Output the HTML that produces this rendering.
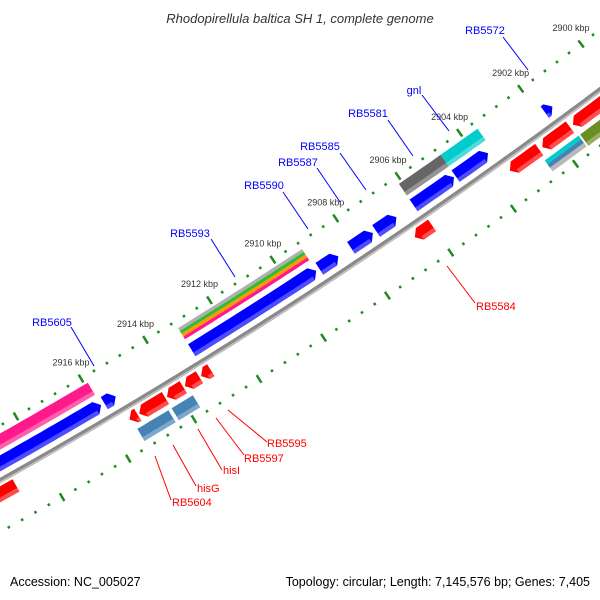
<!DOCTYPE html>
<html><head><meta charset="utf-8"><style>
html,body{margin:0;padding:0;background:#fff;}
svg{display:block;font-family:"Liberation Sans","DejaVu Sans",sans-serif;}
</style></head><body>
<svg id="map" width="600" height="600" viewBox="0 0 600 600" xmlns="http://www.w3.org/2000/svg">
<rect width="600" height="600" fill="#fff"/>
<text x="300" y="23" text-anchor="middle" font-size="13" font-style="italic" fill="#333">Rhodopirellula baltica SH 1, complete genome</text>
<g id="ticks"></g>
<g id="tracks"></g>
<g id="labels" font-size="11">
<g><line x1="503" y1="37" x2="528" y2="70" stroke="#0000ff"/><text x="485" y="34" text-anchor="middle" fill="#0000ff">RB5572</text></g>
<g><line x1="422" y1="95" x2="449" y2="131" stroke="#0000ff"/><text x="414" y="94" text-anchor="middle" fill="#0000ff">gnl</text></g>
<g><line x1="388" y1="120" x2="413" y2="156" stroke="#0000ff"/><text x="368" y="117" text-anchor="middle" fill="#0000ff">RB5581</text></g>
<g><line x1="340" y1="153" x2="366" y2="190" stroke="#0000ff"/><text x="320" y="150" text-anchor="middle" fill="#0000ff">RB5585</text></g>
<g><line x1="317" y1="168" x2="340" y2="202" stroke="#0000ff"/><text x="298" y="166" text-anchor="middle" fill="#0000ff">RB5587</text></g>
<g><line x1="283" y1="192" x2="308" y2="229" stroke="#0000ff"/><text x="264" y="189" text-anchor="middle" fill="#0000ff">RB5590</text></g>
<g><line x1="211" y1="239" x2="235" y2="277" stroke="#0000ff"/><text x="190" y="237" text-anchor="middle" fill="#0000ff">RB5593</text></g>
<g><line x1="71" y1="327" x2="94" y2="366" stroke="#0000ff"/><text x="52" y="326" text-anchor="middle" fill="#0000ff">RB5605</text></g>
<g><line x1="447" y1="266" x2="475" y2="303" stroke="#ff0000"/><text x="476" y="310" fill="#ff0000">RB5584</text></g>
<g><line x1="228" y1="410" x2="267" y2="442" stroke="#ff0000"/><text x="267" y="447" fill="#ff0000">RB5595</text></g>
<g><line x1="216" y1="418" x2="244" y2="455" stroke="#ff0000"/><text x="244" y="462" fill="#ff0000">RB5597</text></g>
<g><line x1="198" y1="429" x2="222" y2="470" stroke="#ff0000"/><text x="223" y="474" fill="#ff0000">hisI</text></g>
<g><line x1="173" y1="445" x2="196" y2="486" stroke="#ff0000"/><text x="197" y="492" fill="#ff0000">hisG</text></g>
<g><line x1="155" y1="456" x2="171" y2="500" stroke="#ff0000"/><text x="172" y="506" fill="#ff0000">RB5604</text></g>
</g>
<text x="10" y="586" font-size="12.5" fill="#000">Accession: NC_005027</text>
<text x="590" y="586" font-size="12.5" text-anchor="end" fill="#000">Topology: circular; Length: 7,145,576 bp; Genes: 7,405</text>
</svg>
<script>
// ---- data (kbp) ----
const fwdStarts = [2915.9, 2915.45, 2909.2, 2908.5, 2907.4, 2906.65, 2904.8, 2903.7, 2901.6];
const fwdEnds   = [2920.8, 2915.8, 2913.1, 2909.1, 2908.1, 2907.3, 2906.1, 2904.75, 2901.85];
const fcogStarts = [2915.9, 2904.75, 2903.55];
const fcogEnds   = [2920.8, 2906.1, 2904.75];
const fcogColors = ["#ff1a8c", "#666666", "#00cccc"];
const stripeStart = 2909.2;
const stripeEnd = 2913.1;
const stripeColors = ["#b0b0b0", "#33bb33", "#ff9900", "#ff1a8c"];
const revStarts = [2899.5, 2901.55, 2902.55, 2906.0, 2912.95, 2913.3, 2913.8, 2914.35, 2915.2, 2918.9];
const revEnds   = [2901.45, 2902.45, 2903.5, 2906.55, 2913.25, 2913.75, 2914.3, 2915.15, 2915.45, 2921.5];
const rcogStarts = [2914.45, 2913.7, 2899.5];
const rcogEnds   = [2915.4, 2914.35, 2901.45];
const rcogColors = ["#4682b4", "#4682b4", "#6b8e23"];
const rstripeStart = 2901.5;
const rstripeEnd = 2902.6;
const rstripeColors = ["#00cccc", "#4682b4", "#b8b8b8"];
const tickLabels = [2900, 2902, 2904, 2906, 2908, 2910, 2912, 2914, 2916];

const NS = "http://www.w3.org/2000/svg";
const CX = -2643, CY = -4233;
const HEAD = 0.16;
function pt(k, r) {
  const a = (54.6 + (k - 2904) * 0.4025) * Math.PI / 180;
  return [CX + r * Math.cos(a), CY + r * Math.sin(a)];
}
function arcPts(a, b, r) {
  const out = []; const n = Math.max(2, Math.ceil(Math.abs(b - a) / 0.2));
  for (let i = 0; i <= n; i++) out.push(pt(a + (b - a) * i / n, r));
  return out;
}
function bandPoly(s, e, r1, r2) {
  return arcPts(s, e, r1).concat(arcPts(e, s, r2));
}
function genePoly(s, e, r, hw, dir) {
  const head = Math.min(HEAD, e - s);
  let p;
  if (dir < 0) {
    p = [pt(s, r)].concat(arcPts(s + head, e, r - hw)).concat(arcPts(e, s + head, r + hw));
  } else if (dir > 0) {
    p = arcPts(s, e - head, r - hw).concat([pt(e, r)]).concat(arcPts(e - head, s, r + hw));
  } else p = bandPoly(s, e, r - hw, r + hw);
  return p;
}
function poly(parent, pts, fill, name) {
  const el = document.createElementNS(NS, "polygon");
  el.setAttribute("points", pts.map(q => q[0].toFixed(1) + "," + q[1].toFixed(1)).join(" "));
  el.setAttribute("fill", fill);
  
  
  parent.appendChild(el);
  return el;
}
function lighten(c, f) {
  const n = parseInt(c.slice(1), 16);
  const rr = (n >> 16) & 255, gg = (n >> 8) & 255, bb = n & 255;
  const m = v => Math.round(v + (255 - v) * f);
  return "rgb(" + m(rr) + "," + m(gg) + "," + m(bb) + ")";
}
function gene(parent, s, e, r, hw, dir, color, name) {
  poly(parent, genePoly(s, e, r, hw, dir), color, name);
  const head = Math.min(HEAD, e - s);
  const bs = dir < 0 ? s + head : s, be = dir > 0 ? e - head : e;
  if (be - bs > 0.05) poly(parent, bandPoly(bs, be, r + hw * 0.4, r + hw), lighten(color, 0.3), name + '-shade');
}

const tracks = document.getElementById("tracks");
const ticks = document.getElementById("ticks");

// backbone
const bb = document.createElementNS(NS, "polyline");
bb.setAttribute("points", arcPts(2897, 2923, 5404).map(q => q.join(",")).join(" "));
bb.setAttribute("fill", "none"); bb.setAttribute("stroke", "#8a8a8a"); bb.setAttribute("stroke-width", "5");


tracks.appendChild(bb);
const bb2 = document.createElementNS(NS, "polyline");
bb2.setAttribute("points", arcPts(2897, 2923, 5405.5).map(q => q.join(",")).join(" "));
bb2.setAttribute("fill", "none"); bb2.setAttribute("stroke", "#c4c4c4"); bb2.setAttribute("stroke-width", "1.5");


tracks.appendChild(bb2);

// ticks
[5356, 5449].forEach((rr, ri) => {
  for (let i = 0; i <= 60; i++) {
    const k = 2898 + i * 0.4;
    const kr = Math.round(k * 10) / 10;
    const major = Math.abs(kr / 2 - Math.round(kr / 2)) < 0.01;
    const L = major ? 4.5 : 1.3;
    const a = pt(kr, rr - L), b = pt(kr, rr + L);
    const ln = document.createElementNS(NS, "line");
    ln.setAttribute("x1", a[0]); ln.setAttribute("y1", a[1]);
    ln.setAttribute("x2", b[0]); ln.setAttribute("y2", b[1]);
    ln.setAttribute("stroke", "#1f8a1f"); ln.setAttribute("stroke-width", "2.5");
    
    
    ticks.appendChild(ln);
  }
});
tickLabels.forEach(k => {
  const p = pt(k, 5356);
  const t = document.createElementNS(NS, "text");
  t.setAttribute("x", p[0] - 10); t.setAttribute("y", p[1] - 13);
  t.setAttribute("text-anchor", "middle"); t.setAttribute("font-size", "9"); t.setAttribute("fill", "#333");
  t.textContent = k + " kbp";
  
  
  ticks.appendChild(t);
});

// forward genes
fwdStarts.forEach((s, i) => gene(tracks, s, fwdEnds[i], 5389, 7, -1, "#0000ff", "forward-gene"));
fcogStarts.forEach((s, i) => gene(tracks, s, fcogEnds[i], 5370, 7, 0, fcogColors[i], "forward-cog-feature"));
stripeColors.forEach((c, i) => poly(tracks, bandPoly(stripeStart, stripeEnd, 5363 + i * 3.3, 5366.3 + i * 3.3), c, "forward-cog-stripe"));
// reverse genes
revStarts.forEach((s, i) => gene(tracks, s, revEnds[i], 5416, 7, 1, "#ff0000", "reverse-gene"));
rcogStarts.forEach((s, i) => gene(tracks, s, rcogEnds[i], 5435, 7, 0, rcogColors[i], "reverse-cog-feature"));
rstripeColors.forEach((c, i) => poly(tracks, bandPoly(rstripeStart, rstripeEnd, 5428 + i * 4.5, 5432.5 + i * 4.5), c, "reverse-cog-stripe"));
</script>
</body></html>
